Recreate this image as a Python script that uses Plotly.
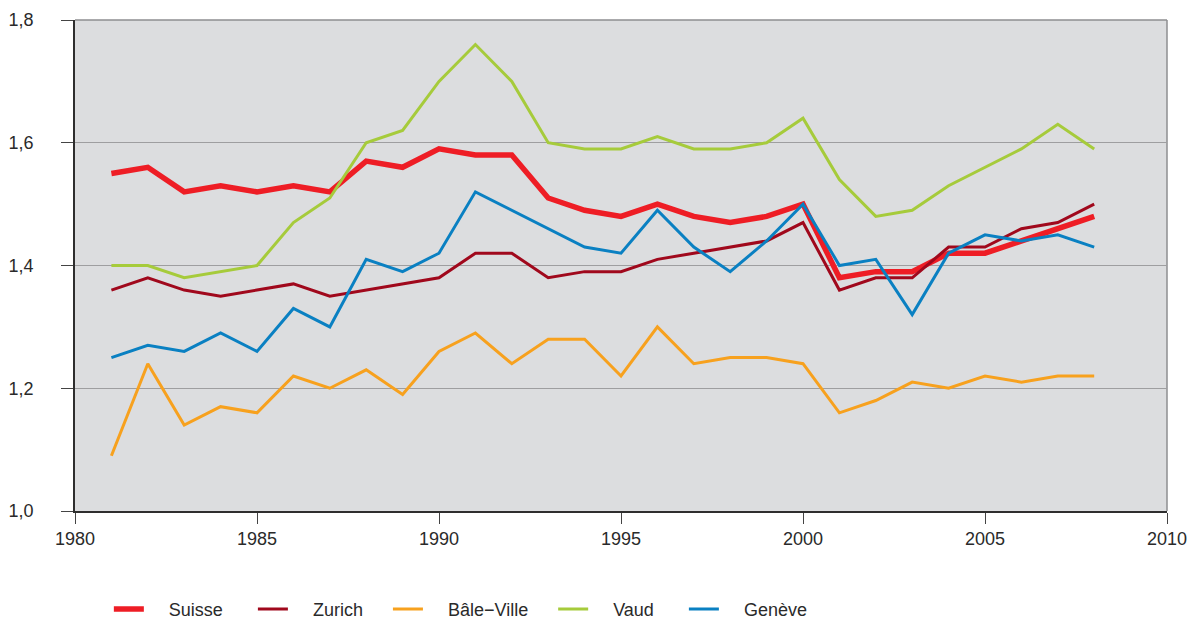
import plotly.graph_objects as go

years = list(range(1981, 2009))
suisse = [1.55, 1.56, 1.52, 1.53, 1.52, 1.53, 1.52, 1.57, 1.56, 1.59, 1.58, 1.58, 1.51, 1.49,
          1.48, 1.50, 1.48, 1.47, 1.48, 1.50, 1.38, 1.39, 1.39, 1.42, 1.42, 1.44, 1.46, 1.48]
zurich = [1.36, 1.38, 1.36, 1.35, 1.36, 1.37, 1.35, 1.36, 1.37, 1.38, 1.42, 1.42, 1.38, 1.39,
          1.39, 1.41, 1.42, 1.43, 1.44, 1.47, 1.36, 1.38, 1.38, 1.43, 1.43, 1.46, 1.47, 1.50]
bale = [1.09, 1.24, 1.14, 1.17, 1.16, 1.22, 1.20, 1.23, 1.19, 1.26, 1.29, 1.24, 1.28, 1.28,
        1.22, 1.30, 1.24, 1.25, 1.25, 1.24, 1.16, 1.18, 1.21, 1.20, 1.22, 1.21, 1.22, 1.22]
vaud = [1.40, 1.40, 1.38, 1.39, 1.40, 1.47, 1.51, 1.60, 1.62, 1.70, 1.76, 1.70, 1.60, 1.59,
        1.59, 1.61, 1.59, 1.59, 1.60, 1.64, 1.54, 1.48, 1.49, 1.53, 1.56, 1.59, 1.63, 1.59]
geneve = [1.25, 1.27, 1.26, 1.29, 1.26, 1.33, 1.30, 1.41, 1.39, 1.42, 1.52, 1.49, 1.46, 1.43,
          1.42, 1.49, 1.43, 1.39, 1.44, 1.50, 1.40, 1.41, 1.32, 1.42, 1.45, 1.44, 1.45, 1.43]

names = ["Suisse", "Zurich", "Bâle\u2212Ville", "Vaud", "Genève"]
values = [suisse, zurich, bale, vaud, geneve]
colors = ["#EE1D25", "#A0081C", "#F7A11E", "#A6CB3B", "#0A80C2"]
widths = [5.5, 3, 3, 3, 3]
trail = [5, 4, 4, 5, 4]

NB = "\u00a0"
fig = go.Figure()
for name, vals, col, w, t in zip(names, values, colors, widths, trail):
    fig.add_trace(go.Scatter(x=years, y=vals, mode="lines",
                             name=NB * 4 + name + NB * t,
                             line=dict(color=col, width=w)))

fig.update_layout(
    width=1196, height=618,
    margin=dict(l=75, r=29, t=20, b=107, autoexpand=False),
    plot_bgcolor="#DCDDDF",
    paper_bgcolor="white",
    separators=", ",
    font=dict(family="Liberation Sans, Arial, sans-serif", size=18, color="#2A2A2A"),
    showlegend=True,
    legend=dict(orientation="h", x=0.031, xanchor="left", y=-0.2, yanchor="middle",
                font=dict(size=18, color="#2A2A2A"), itemwidth=30,
                bgcolor="rgba(0,0,0,0)"),
    xaxis=dict(range=[1980, 2010], tickvals=[1980, 1985, 1990, 1995, 2000, 2005, 2010],
               showgrid=False, showline=True, linecolor="#2E2E2E", linewidth=1.5,
               ticks="outside", ticklen=11, tickcolor="#444", tickwidth=1,
               tickfont=dict(size=18), zeroline=False, automargin=False),
    yaxis=dict(range=[1.0, 1.8], tickvals=[1.0, 1.2, 1.4, 1.6, 1.8], tickformat=".1f",
               showgrid=True, gridcolor="#9E9EA0", gridwidth=1.3,
               showline=True, linecolor="#2E2E2E", linewidth=1.5,
               ticks="outside", ticklen=12, tickcolor="#444", tickwidth=1,
               ticklabelstandoff=24,
               tickfont=dict(size=18), zeroline=False, automargin=False),
)
# top and right frame
fig.add_shape(type="line", xref="paper", yref="paper", x0=0, x1=1, y0=1, y1=1,
              line=dict(color="#8E8E90", width=1.5), layer="below")
fig.add_shape(type="line", xref="paper", yref="paper", x0=1, x1=1, y0=0, y1=1,
              line=dict(color="#8E8E90", width=1.5), layer="below")

fig.write_html("out.html", config={"displayModeBar": False},
               post_script="document.body.style.margin='0';document.body.style.overflow='hidden';")
